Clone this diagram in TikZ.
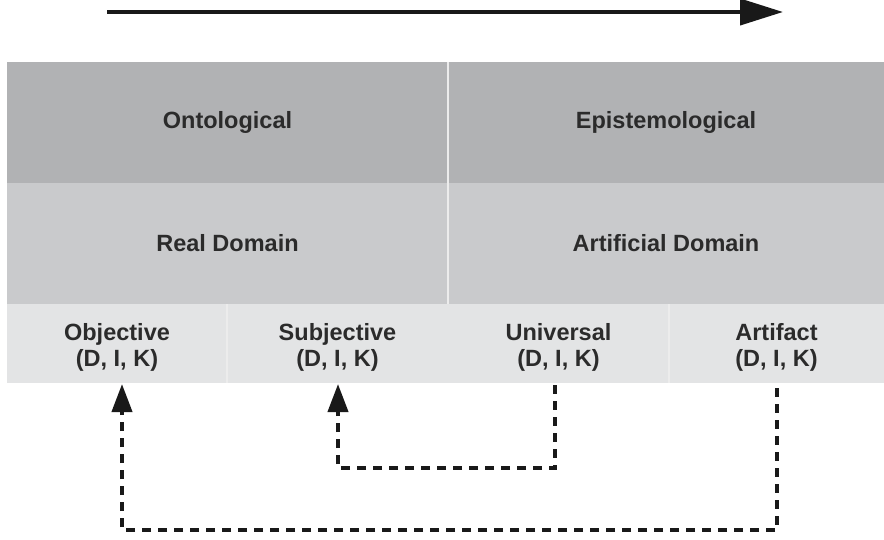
\documentclass[tikz,border=0pt]{standalone}
\usepackage{fontspec}
\setmainfont{Liberation Sans}
\usetikzlibrary{arrows.meta}
\definecolor{rowa}{HTML}{B1B2B4}
\definecolor{rowb}{HTML}{C9CACC}
\definecolor{rowc}{HTML}{E3E4E5}
\definecolor{txt}{HTML}{2B2B2B}
\tikzset{
  cell/.style={draw=none, inner sep=0pt, outer sep=0pt, anchor=north west,
    text=txt, font=\fontsize{23.5}{26}\selectfont\bfseries, align=center},
  celltext/.style={text=txt, font=\fontsize{23.5}{26}\selectfont\bfseries, align=center, inner sep=0pt, yshift=-4pt},
  dashline/.style={line width=4pt, dash pattern=on 9pt off 7pt, black!90},
  tip/.style={-{Triangle[width=20pt,length=28pt]}},
  divider/.style={white!85!gray, line width=1.2pt}
}
\begin{document}
\begin{tikzpicture}[x=1pt,y=-1pt]
\useasboundingbox (0,0) rectangle (884,540);
% top arrow
\coordinate (a1) at (107,12);
\coordinate (a2) at (783,12);
\draw[line width=4pt, -{Triangle[width=26pt,length=43pt]}, black!90] (a1) -- (a2);
% row 1
\node[cell, fill=rowa, minimum width=441pt, minimum height=121pt] (ont) at (7,62) {Ontological};
\node[cell, fill=rowa, minimum width=436pt, minimum height=121pt] (epi) at (448,62) {Epistemological};
% row 2
\node[cell, fill=rowb, minimum width=441pt, minimum height=121pt] (real) at (7,183) {Real Domain};
\node[cell, fill=rowb, minimum width=436pt, minimum height=121pt] (art) at (448,183) {Artificial Domain};
% row 3
\node[cell, fill=rowc, minimum width=220pt, minimum height=79pt,
  label={[celltext]center:{Objective\\(D, I, K)}}] (obj) at (7,304) {};
\node[cell, fill=rowc, minimum width=221pt, minimum height=79pt,
  label={[celltext]center:{Subjective\\(D, I, K)}}] (subj) at (227,304) {};
\node[cell, fill=rowc, minimum width=221pt, minimum height=79pt,
  label={[celltext]center:{Universal\\(D, I, K)}}] (uni) at (448,304) {};
\node[cell, fill=rowc, minimum width=215pt, minimum height=79pt,
  label={[celltext]center:{Artifact\\(D, I, K)}}] (artf) at (669,304) {};
% dividers
\draw[divider] (ont.north east) -- (real.south east);
\draw[divider] (obj.north east) -- (obj.south east);
\draw[divider] (uni.north east) -- (uni.south east);
% connectors
\draw[dashline] ([xshift=-3.5pt,yshift=-2pt]uni.south) -- ++(0,83) -| ([xshift=0.5pt,yshift=-30pt]subj.south);
\draw[tip, black!90, line width=4pt] ([xshift=0.5pt,yshift=-30pt]subj.south) -- ([xshift=0.5pt,yshift=-1pt]subj.south);
\draw[dashline] ([xshift=0.5pt,yshift=-5pt]artf.south) -- ++(0,142) -| ([xshift=5pt,yshift=-30pt]obj.south);
\draw[tip, black!90, line width=4pt] ([xshift=5pt,yshift=-30pt]obj.south) -- ([xshift=5pt,yshift=-1pt]obj.south);
\end{tikzpicture}
\end{document}
